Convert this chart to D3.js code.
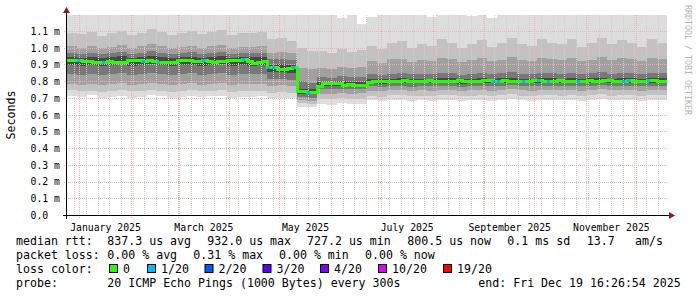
<!DOCTYPE html>
<html>
<head>
<meta charset="utf-8">
<script src="https://cdn.jsdelivr.net/npm/d3@7"></script>
<style>
body { margin: 0; background: #fff; }
svg { display: block; }
text { font-family: "DejaVu Sans Mono", monospace; fill: #000; }
</style>
</head>
<body>
<div class="chart"></div>
<script>
// time range of the graph (last 360 days)
var endTime = new Date(Date.UTC(2025, 11, 19, 16, 26, 54));
var startTime = new Date(endTime.getTime() - 360 * 864e5);
var smokeStepDays = 6;   // one smoke column = 6 days
var medianStepDays = 3;  // one median step = 3 days

// sorted ping values per column, in microseconds (p1 = fastest, p20 = slowest)
var pingP1 = [710,705,715,700,708,712,702,706,715,710,700,708,712,705,710,714,702,708,705,710,
  700,702,698,648,645,665,660,668,662,665,
  685,680,688,690,682,686,684,690,688,680,686,690,684,688,692,686,684,690,688,686,
  690,684,688,692,686,690,688,684,690,688];
var pingP3 = [745,738,742,735,740,745,738,740,748,742,735,740,745,738,742,745,736,740,738,742,
  730,735,728,668,665,695,692,698,694,696,
  712,708,715,716,710,714,712,718,716,710,714,718,712,716,720,714,712,718,716,714,
  718,712,716,720,714,718,716,712,718,716];
var pingP5 = [785,778,782,775,780,788,778,782,790,784,776,780,786,778,784,788,776,782,780,784,
  770,775,768,685,682,725,722,728,724,726,
  742,738,745,746,740,744,742,748,746,740,744,748,742,746,750,744,742,748,746,744,
  748,742,746,750,744,748,746,742,748,746];
var pingP7 = [845,838,842,835,840,848,838,842,850,844,836,840,846,838,844,848,836,842,840,844,
  810,815,808,705,702,752,750,755,752,754,
  768,765,770,772,766,770,768,772,770,766,770,772,768,770,774,770,768,772,770,768,
  772,768,770,774,770,772,770,768,772,770];
var pingP9 = [898,892,895,890,894,900,892,895,902,896,890,894,898,892,896,900,890,895,893,896,
  852,856,850,722,720,770,768,772,768,770,
  786,784,788,790,786,788,786,790,788,784,788,790,786,788,792,788,786,790,788,786,
  790,786,788,792,788,790,788,786,790,788];
var pingP12 = [945,940,944,938,942,948,940,944,950,945,938,942,946,940,945,948,938,944,942,945,
  898,902,896,752,750,795,792,798,794,796,
  812,810,815,816,812,814,812,818,816,810,814,818,812,816,820,814,812,818,816,814,
  818,812,816,820,814,818,816,812,818,816];
var pingP14 = [970,962,968,960,966,975,964,968,978,970,962,966,972,964,970,975,962,968,966,970,
  930,935,926,800,790,825,820,828,822,826,
  840,836,845,848,840,844,842,850,846,838,844,850,842,846,852,844,842,850,846,844,
  850,842,846,852,844,850,846,842,850,846];
var pingP16 = [1010,1000,1008,995,1004,1015,1000,1008,1020,1010,998,1004,1012,1000,1010,1015,998,1006,1002,1010,
  970,975,965,880,870,880,875,885,878,882,
  920,910,930,935,915,925,920,940,930,912,925,938,918,928,945,925,920,940,930,925,
  940,918,928,945,925,938,930,918,940,930];
var pingP18 = [1090,1080,1095,1070,1085,1100,1078,1090,1110,1095,1075,1085,1100,1080,1095,1105,1075,1090,1085,1095,
  1050,1060,1040,1000,980,980,970,990,975,985,
  1010,990,1030,1040,1000,1020,1010,1050,1030,995,1020,1045,1005,1025,1060,1020,1010,1050,1030,1020,
  1050,1005,1025,1060,1020,1045,1030,1005,1050,1030];
var pingP20 = [1250,1250,1250,1250,1250,1250,1250,1250,1250,1250,1250,1250,1250,1250,1250,1250,1250,1250,1250,1250,
  1250,1250,1250,1250,1250,1250,1250,1175,1250,1140,
  1185,1250,1250,1250,1250,1250,1185,1250,1250,1250,1190,1250,1175,1250,1250,1250,1250,1250,1250,1250,
  1250,1250,1250,1250,1250,1250,1250,1250,1250,1250];

// median rtt per 3-day step, microseconds
var medianRtt = [926,926,924,920,918,912,910,912,916,914,
  910,912,924,926,924,920,922,918,914,910,
  914,912,922,926,922,920,918,922,916,914,
  916,920,926,922,926,930,918,908,910,918,
  884,880,872,870,878,880,740,736,732,730,
  770,788,786,788,784,776,778,774,776,772,
  790,796,798,800,798,796,800,802,798,796,
  798,800,802,800,798,796,798,800,804,800,
  798,796,800,806,802,798,800,802,800,798,
  796,798,800,804,802,800,798,800,802,800,
  798,796,798,800,802,798,800,806,804,800,
  798,800,802,800,798,800,802,804,800,798];
// lost pings (out of 20) per median step
var medianLoss = [0,0,1,0,0,0,0,1,0,0, 0,0,0,0,0,1,0,0,1,0,
  0,0,0,0,0,0,0,1,0,0, 0,0,0,0,0,1,0,0,0,0,
  1,1,0,0,0,1,0,0,1,0, 0,0,0,0,0,0,0,0,0,0,
  0,0,0,0,0,0,0,0,0,0, 0,0,0,0,0,0,0,0,0,0,
  0,0,0,0,0,1,1,0,0,0, 0,1,0,0,1,0,1,0,0,0,
  0,0,1,0,0,0,0,0,0,0, 0,1,1,0,0,0,1,0,0,0];

var yTickValues = [0, 0.1, 0.2, 0.3, 0.4, 0.5, 0.6, 0.7, 0.8, 0.9, 1.0, 1.1]; // ms
var yTickLabels = ["0.0", "0.1 m", "0.2 m", "0.3 m", "0.4 m", "0.5 m", "0.6 m", "0.7 m", "0.8 m", "0.9 m", "1.0 m", "1.1 m"];

var lossCounts = [0, 1, 2, 3, 4, 10, 19];
var lossLabels = ["0", "1/20", "2/20", "3/20", "4/20", "10/20", "19/20"];
var lossColors = ["#26ff00", "#00b8ff", "#0059ff", "#5e00ff", "#7e00ff", "#dd00ff", "#ff0000"];

var rttLegend = ["median rtt:", "837.3 us avg", "932.0 us max", "727.2 us min", "800.5 us now", "0.1 ms sd", "13.7", "am/s"];
var lossLegend = ["packet loss:", "0.00 % avg", "0.31 % max", "0.00 % min", "0.00 % now"];
var probeLegend = ["probe:", "20 ICMP Echo Pings (1000 Bytes) every 300s", "end: Fri Dec 19 16:26:54 2025"];

// ---------------------------------------------------------------
var svgWidth = 697, svgHeight = 297;
var plot = { left: 67, right: 667, top: 15, bottom: 215 };

var svg = d3.select(".chart").append("svg")
  .attr("width", svgWidth)
  .attr("height", svgHeight);

svg.append("rect").attr("width", svgWidth).attr("height", svgHeight).attr("fill", "#fff");

var x = d3.scaleUtc().domain([startTime, endTime]).range([plot.left, plot.right]);
var y = d3.scaleLinear().domain([0, 1.195]).range([plot.bottom, plot.top]); // ms

svg.append("clipPath").attr("id", "plotclip")
  .append("rect")
  .attr("x", plot.left).attr("y", plot.top)
  .attr("width", plot.right - plot.left).attr("height", plot.bottom - plot.top);

var dataG = svg.append("g").attr("clip-path", "url(#plotclip)");

// smoke columns
var smokeRows = pingP1.map(function(d, i) {
  return {
    t: d3.utcDay.offset(startTime, i * smokeStepDays),
    p1: pingP1[i], p3: pingP3[i], p5: pingP5[i], p7: pingP7[i], p9: pingP9[i],
    p12: pingP12[i], p14: pingP14[i], p16: pingP16[i], p18: pingP18[i], p20: pingP20[i]
  };
});
// close last step at the end time
smokeRows.push(Object.assign({}, smokeRows[smokeRows.length - 1], { t: endTime }));

var bands = [
  { lo: "p1", hi: "p20", color: "#dddddd" },
  { lo: "p3", hi: "p18", color: "#c2c2c2" },
  { lo: "p5", hi: "p16", color: "#a0a0a0" },
  { lo: "p7", hi: "p14", color: "#787878" },
  { lo: "p9", hi: "p12", color: "#484848" }
];

bands.forEach(function(b) {
  var area = d3.area()
    .curve(d3.curveStepAfter)
    .x(function(d) { return x(d.t); })
    .y0(function(d) { return y(d[b.lo] / 1000); })
    .y1(function(d) { return y(d[b.hi] / 1000); });
  dataG.append("path")
    .datum(smokeRows)
    .attr("d", area)
    .attr("fill", b.color)
    .attr("shape-rendering", "crispEdges");
});

// grid
var gridG = svg.append("g").attr("shape-rendering", "crispEdges");
var minorTimes = d3.utcSunday.range(startTime, endTime);
gridG.selectAll(".minor")
  .data(minorTimes)
  .enter()
  .append("line")
  .attr("x1", function(d) { return Math.round(x(d)) + 0.5; })
  .attr("x2", function(d) { return Math.round(x(d)) + 0.5; })
  .attr("y1", plot.top)
  .attr("y2", plot.bottom + 2)
  .attr("stroke", "#cfcfcf")
  .attr("stroke-dasharray", "1,1");

var majorTimes = d3.utcMonth.range(startTime, endTime);
gridG.selectAll(".major")
  .data(majorTimes)
  .enter()
  .append("line")
  .attr("x1", function(d) { return Math.round(x(d)) + 0.5; })
  .attr("x2", function(d) { return Math.round(x(d)) + 0.5; })
  .attr("y1", plot.top)
  .attr("y2", plot.bottom + 3)
  .attr("stroke", "#eeb0b0")
  .attr("stroke-dasharray", "1,1");

gridG.selectAll(".hgrid")
  .data(yTickValues.slice(1))
  .enter()
  .append("line")
  .attr("x1", plot.left - 3)
  .attr("x2", plot.right + 1)
  .attr("y1", function(d) { return Math.round(y(d)) + 0.5; })
  .attr("y2", function(d) { return Math.round(y(d)) + 0.5; })
  .attr("stroke", "#eeb0b0")
  .attr("stroke-dasharray", "1,1");

// median line coloured by loss
var medRows = medianRtt.map(function(d, i) {
  return { t: d3.utcDay.offset(startTime, i * medianStepDays), v: d / 1000, loss: medianLoss[i] };
});
var medLine = d3.line()
  .curve(d3.curveStepAfter)
  .x(function(d) { return x(d.t); })
  .y(function(d) { return y(d.v); });
var medAll = medRows.concat([{ t: endTime, v: medRows[medRows.length - 1].v, loss: 0 }]);
var medG = svg.append("g").attr("clip-path", "url(#plotclip)");
medG.append("path")
  .datum(medAll)
  .attr("d", medLine)
  .attr("fill", "none")
  .attr("stroke", lossColors[0])
  .attr("stroke-width", 3)
  .attr("shape-rendering", "crispEdges");

medG.selectAll(".lossseg")
  .data(medRows.filter(function(d) { return d.loss > 0; }))
  .enter()
  .append("line")
  .attr("x1", function(d) { return x(d.t); })
  .attr("x2", function(d) { return x(d.t) + 3; })
  .attr("y1", function(d) { return y(d.v); })
  .attr("y2", function(d) { return y(d.v); })
  .attr("stroke", function(d) {
    var k = 0;
    lossCounts.forEach(function(c, j) { if (d.loss >= c) k = j; });
    return lossColors[k];
  })
  .attr("stroke-width", 3)
  .attr("shape-rendering", "crispEdges");

// axes
var labelTimes = d3.utcMonth.every(2).range(startTime, endTime).map(function(m) {
  return new Date((m.getTime() + d3.utcMonth.offset(m, 1).getTime()) / 2);
});
var xAxis = d3.axisBottom(x)
  .tickValues(labelTimes)
  .tickSize(0)
  .tickPadding(9)
  .tickFormat(d3.utcFormat("%B %Y"));
var xAxisG = svg.append("g")
  .attr("transform", "translate(0," + plot.bottom + ")")
  .call(xAxis);
xAxisG.select(".domain").remove();
xAxisG.selectAll("text").attr("font-size", "9.8px").attr("font-family", "DejaVu Sans Mono").attr("fill", "#000");

var yAxis = d3.axisLeft(y)
  .tickValues(yTickValues)
  .tickSize(0)
  .tickFormat(function(d, i) { return yTickLabels[i]; });
var yAxisG = svg.append("g")
  .attr("transform", "translate(" + (plot.left - 0.5) + ",0)")
  .call(yAxis);
yAxisG.select(".domain").remove();
yAxisG.selectAll("text")
  .attr("text-anchor", "start")
  .attr("x", -36)
  .attr("dy", "0.35em")
  .attr("font-size", "9.8px")
  .attr("font-family", "DejaVu Sans Mono")
  .attr("fill", "#000");

// axis lines with arrows
svg.append("line")
  .attr("x1", plot.left - 4).attr("x2", plot.right + 4)
  .attr("y1", plot.bottom + 0.5).attr("y2", plot.bottom + 0.5)
  .attr("stroke", "#000");
svg.append("line")
  .attr("x1", plot.left - 0.5).attr("x2", plot.left - 0.5)
  .attr("y1", plot.bottom + 4).attr("y2", plot.top - 3)
  .attr("stroke", "#000");
svg.append("path")
  .attr("d", "M" + (plot.right + 2) + "," + (plot.bottom - 3) + "L" + (plot.right + 8) + "," + (plot.bottom + 0.5) + "L" + (plot.right + 2) + "," + (plot.bottom + 4) + "Z")
  .attr("fill", "#8b1a1a");
svg.append("path")
  .attr("d", "M" + (plot.left - 4) + "," + (plot.top - 2) + "L" + (plot.left - 0.5) + "," + (plot.top - 8) + "L" + (plot.left + 3) + "," + (plot.top - 2) + "Z")
  .attr("fill", "#8b1a1a");

// y title
svg.append("text")
  .attr("transform", "translate(14.5," + ((plot.top + plot.bottom) / 2) + ") rotate(-90)")
  .attr("text-anchor", "middle")
  .attr("font-size", "11.6px")
  .text("Seconds");

// watermark
svg.append("text")
  .attr("transform", "translate(685,5) rotate(90)")
  .attr("font-size", "8.3px")
  .style("fill", "#b4b4b4")
  .text("RRDTOOL / TOBI OETIKER");

// legend
var legendFont = "11.6px";
var rowY = [245, 259, 273, 286.5];
var rttX = [16, 107.3, 207.3, 307, 407.3, 507.3, 586.7, 635];
var lossX = [16, 107.3, 193.3, 279, 365];
var probeX = [16, 107.3, 478.3];
var swatchX = [109, 147, 204.5, 262.5, 320, 378, 443];

function legendRow(items, xs, yy) {
  svg.append("g").selectAll("text")
    .data(items)
    .enter()
    .append("text")
    .attr("x", function(d, i) { return xs[i]; })
    .attr("y", yy)
    .attr("font-size", legendFont)
    .text(function(d) { return d; });
}
legendRow(rttLegend, rttX, rowY[0]);
legendRow(lossLegend, lossX, rowY[1]);
legendRow(["loss color:"], [16], rowY[2]);
legendRow(probeLegend, probeX, rowY[3]);

var sw = svg.append("g").selectAll("g")
  .data(lossLabels)
  .enter()
  .append("g");
sw.append("rect")
  .attr("x", function(d, i) { return swatchX[i] + 0.5; })
  .attr("y", rowY[2] - 8.5)
  .attr("width", 8)
  .attr("height", 8)
  .attr("fill", function(d, i) { return lossColors[i]; })
  .attr("stroke", "#000");
sw.append("text")
  .attr("x", function(d, i) { return swatchX[i] + 14; })
  .attr("y", rowY[2])
  .attr("font-size", legendFont)
  .text(function(d) { return d; });
</script>
</body>
</html>
